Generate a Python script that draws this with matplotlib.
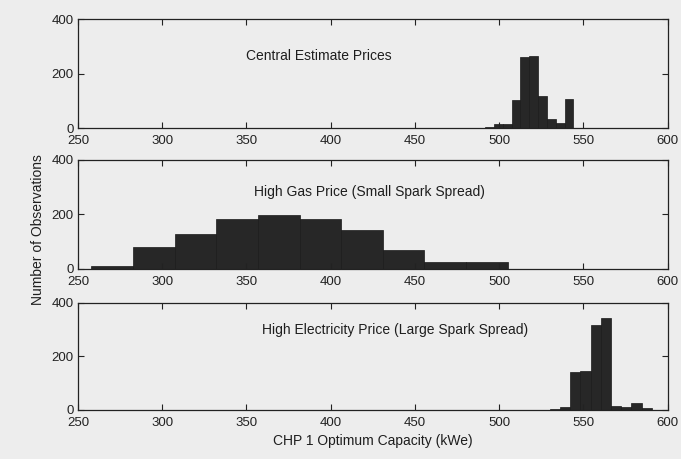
import numpy as np
import matplotlib
matplotlib.use("Agg")
import matplotlib.pyplot as plt

plt.rcParams['font.family'] = ['Liberation Sans', 'DejaVu Sans']

# histogram data (10 bins between min and max, like MATLAB hist)
titles = ["Central Estimate Prices",
          "High Gas Price (Small Spark Spread)",
          "High Electricity Price (Large Spark Spread)"]
central_range = [491.6, 544.0]
central_counts = [5, 14, 14, 103, 259, 264, 118, 32, 20, 108]
gas_range = [258.0, 505.0]
gas_counts = [11, 79, 128, 182, 199, 184, 142, 68, 27, 24]
elec_range = [530.0, 590.5]
elec_counts = [3, 10, 140, 145, 318, 343, 15, 10, 25, 6]

x_ticks = [250, 300, 350, 400, 450, 500, 550, 600]
y_ticks = [0, 200, 400]

bg = '#ededed'
bar_col = '#272727'

fig = plt.figure(figsize=(6.81, 4.59), dpi=100, facecolor=bg)

# axes rectangles [left, bottom, width, height]
rects = [[0.1145, 0.721, 0.866, 0.2375],
         [0.1145, 0.414, 0.866, 0.2375],
         [0.1145, 0.107, 0.866, 0.2330]]
title_pos = [(0.285, 0.66), (0.298, 0.71), (0.312, 0.745)]

data = [(central_range, central_counts),
        (gas_range, gas_counts),
        (elec_range, elec_counts)]

for i, (rng, counts) in enumerate(data):
    ax = fig.add_axes(rects[i], facecolor=bg)
    edges = np.linspace(rng[0], rng[1], len(counts) + 1)
    ax.bar(edges[:-1], counts, width=np.diff(edges), align='edge',
           color=bar_col, edgecolor='#1a1a1a', linewidth=0.5)
    ax.set_xlim(250, 600)
    ax.set_ylim(0, 400)
    ax.set_xticks(x_ticks)
    ax.set_yticks(y_ticks)
    ax.tick_params(direction='in', top=True, right=True, length=4,
                   width=0.8, labelsize=9.5, colors='#222222')
    ax.tick_params(axis='x', pad=5)
    ax.tick_params(axis='y', pad=3)
    for s in ax.spines.values():
        s.set_linewidth(0.9)
        s.set_color('#222222')
    tx, ty = title_pos[i]
    ax.text(tx, ty, titles[i], transform=ax.transAxes, fontsize=10,
            color='#1e1e1e', ha='left', va='center')
    if i == 2:
        ax.set_xlabel('CHP 1 Optimum Capacity (kWe)', fontsize=10,
                      color='#1e1e1e', labelpad=4)

fig.text(0.056, 0.5, 'Number of Observations', rotation=90,
         fontsize=10, color='#1e1e1e', ha='center', va='center')

fig.savefig('out.png', dpi=100, facecolor=bg)
